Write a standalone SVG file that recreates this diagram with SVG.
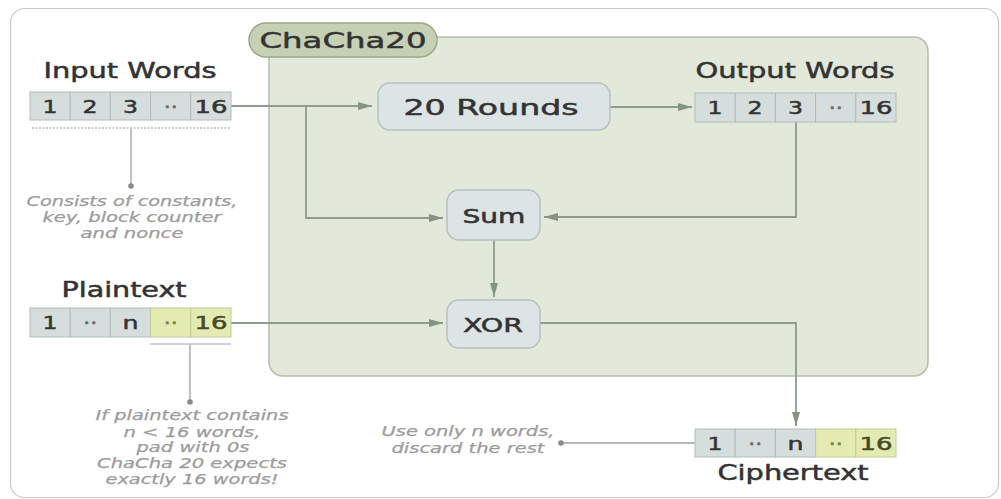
<svg xmlns="http://www.w3.org/2000/svg" width="1001" height="499" viewBox="0 0 1001 499">
<defs>
<marker id="arr" viewBox="0 0 14 10" refX="14" refY="5" markerWidth="14" markerHeight="10" markerUnits="userSpaceOnUse" orient="auto">
<path d="M0,1 L14,5 L0,9 z" fill="#849484"/>
</marker>
<style>
.t{font-family:"DejaVu Sans",Verdana,sans-serif;fill:#333;text-anchor:middle;stroke:#333;stroke-width:0.5}
.title{font-size:21px}
.node{font-size:22px}
.cell{font-size:18px}
.note{font-family:"DejaVu Sans",Verdana,sans-serif;font-style:italic;font-size:13.5px;fill:#9c9c9c;text-anchor:middle;stroke:#9c9c9c;stroke-width:0.25}
.box{fill:#dde4e6;stroke:#b7c0c0;stroke-width:1.5}
.cg{fill:#d6dddd;stroke:#b3bbbb;stroke-width:1}
.cy{fill:#e3ebb3;stroke:#c3ca98;stroke-width:1}
.conn{fill:none;stroke:#8d9c8d;stroke-width:1.8}
.lead{fill:none;stroke:#a0a0a0;stroke-width:1.3}
</style>
</defs>
<rect x="10.5" y="8.5" width="988" height="489" rx="14" fill="#ffffff" stroke="#c8c8c8" stroke-width="1.2"/>

<g id="chacha20">
<rect x="269" y="37" width="659" height="339" rx="14" fill="#e2e8da" stroke="#b4bea8" stroke-width="1.5"/>
<rect x="249" y="23" width="188" height="34" rx="17" fill="#c6d0b4" stroke="#9aa889" stroke-width="1.5"/>
<text class="t" x="343" y="48" font-size="22" textLength="167" lengthAdjust="spacingAndGlyphs">ChaCha20</text>
</g>

<g id="connectors">
<path class="conn" d="M231,106 H372" marker-end="url(#arr)"/>
<path class="conn" d="M306,106 V218 H443" marker-end="url(#arr)"/>
<path class="conn" d="M610,107 H692" marker-end="url(#arr)"/>
<path class="conn" d="M796,122 V217 H544" marker-end="url(#arr)"/>
<path class="conn" d="M494,240 V297" marker-end="url(#arr)"/>
<path class="conn" d="M231,323 H443" marker-end="url(#arr)"/>
<path class="conn" d="M540,323 H796 V426" marker-end="url(#arr)"/>
<path class="lead" d="M131,128 V185"/>
<circle cx="131" cy="186" r="2.8" fill="#8a8a8a"/>
<path class="lead" d="M190,344 V401"/>
<circle cx="190" cy="402" r="2.8" fill="#8a8a8a"/>
<path class="lead" d="M695,443 H562"/>
<circle cx="561" cy="443" r="2.8" fill="#8a8a8a"/>
</g>

<g id="input-words">
<text class="t title" x="130" y="78" textLength="173" lengthAdjust="spacingAndGlyphs">Input Words</text>
<rect class="cg" x="30" y="92" width="40.2" height="28"/>
<rect class="cg" x="70.2" y="92" width="40.2" height="28"/>
<rect class="cg" x="110.4" y="92" width="40.2" height="28"/>
<rect class="cg" x="150.6" y="92" width="40.2" height="28"/>
<rect class="cg" x="190.8" y="92" width="40.2" height="28"/>
<text class="t cell" x="50" y="113" textLength="15" lengthAdjust="spacingAndGlyphs">1</text>
<text class="t cell" x="90" y="113" textLength="15" lengthAdjust="spacingAndGlyphs">2</text>
<text class="t cell" x="130.5" y="113" textLength="15" lengthAdjust="spacingAndGlyphs">3</text>
<text class="t cell" x="170.7" y="113" textLength="14" lengthAdjust="spacingAndGlyphs" style="fill:#666;stroke:#666">··</text>
<text class="t cell" x="211" y="113" textLength="33" lengthAdjust="spacingAndGlyphs">16</text>
<path d="M32,128 H231" stroke="#b8bcc8" stroke-width="1.5" stroke-dasharray="2,1.5" fill="none"/>
<text class="note" x="132" y="206" textLength="211" lengthAdjust="spacingAndGlyphs">Consists of constants,</text>
<text class="note" x="132" y="222" textLength="179" lengthAdjust="spacingAndGlyphs">key, block counter</text>
<text class="note" x="132" y="238" textLength="103" lengthAdjust="spacingAndGlyphs">and nonce</text>
</g>

<g id="rounds">
<rect class="box" x="378" y="83" width="232" height="47" rx="12"/>
<text class="t node" x="491" y="115" textLength="175" lengthAdjust="spacingAndGlyphs">20 Rounds</text>
</g>

<g id="output-words">
<text class="t title" x="795" y="78" textLength="199" lengthAdjust="spacingAndGlyphs">Output Words</text>
<rect class="cg" x="695" y="93" width="40.2" height="29"/>
<rect class="cg" x="735.2" y="93" width="40.2" height="29"/>
<rect class="cg" x="775.4" y="93" width="40.2" height="29"/>
<rect class="cg" x="815.6" y="93" width="40.2" height="29"/>
<rect class="cg" x="855.8" y="93" width="40.2" height="29"/>
<text class="t cell" x="715" y="114" textLength="15" lengthAdjust="spacingAndGlyphs">1</text>
<text class="t cell" x="755" y="114" textLength="15" lengthAdjust="spacingAndGlyphs">2</text>
<text class="t cell" x="795.5" y="114" textLength="15" lengthAdjust="spacingAndGlyphs">3</text>
<text class="t cell" x="835.7" y="114" textLength="14" lengthAdjust="spacingAndGlyphs" style="fill:#666;stroke:#666">··</text>
<text class="t cell" x="876" y="114" textLength="33" lengthAdjust="spacingAndGlyphs">16</text>
</g>

<g id="sum">
<rect class="box" x="447" y="190" width="93" height="50" rx="12"/>
<text class="t" x="494" y="223" font-size="19" textLength="63" lengthAdjust="spacingAndGlyphs">Sum</text>
</g>

<g id="xor">
<rect class="box" x="447" y="300" width="93" height="48" rx="12"/>
<text class="t" x="493" y="332" font-size="19" textLength="60" lengthAdjust="spacingAndGlyphs">XOR</text>
</g>

<g id="plaintext">
<text class="t title" x="124" y="297" textLength="125" lengthAdjust="spacingAndGlyphs">Plaintext</text>
<rect class="cg" x="30" y="308" width="40.2" height="29"/>
<rect class="cg" x="70.2" y="308" width="40.2" height="29"/>
<rect class="cg" x="110.4" y="308" width="40.2" height="29"/>
<rect class="cy" x="150.6" y="308" width="40.2" height="29"/>
<rect class="cy" x="190.8" y="308" width="40.2" height="29"/>
<text class="t cell" x="50" y="329" textLength="15" lengthAdjust="spacingAndGlyphs">1</text>
<text class="t cell" x="90.3" y="329" textLength="14" lengthAdjust="spacingAndGlyphs" style="fill:#666;stroke:#666">··</text>
<text class="t cell" x="130.5" y="329" textLength="16" lengthAdjust="spacingAndGlyphs">n</text>
<text class="t cell" x="170.7" y="329" textLength="14" lengthAdjust="spacingAndGlyphs" style="fill:#7a8040;stroke:#7a8040">··</text>
<text class="t cell" x="211" y="329" textLength="33" lengthAdjust="spacingAndGlyphs" style="fill:#444a25;stroke:#444a25">16</text>
<path d="M150,344 H231" stroke="#bcc2dc" stroke-width="1.5" fill="none"/>
<text class="note" x="192" y="420" textLength="193" lengthAdjust="spacingAndGlyphs">If plaintext contains</text>
<text class="note" x="192" y="437" textLength="137" lengthAdjust="spacingAndGlyphs">n &lt; 16 words,</text>
<text class="note" x="193" y="452" textLength="113" lengthAdjust="spacingAndGlyphs">pad with 0s</text>
<text class="note" x="192" y="468" textLength="190" lengthAdjust="spacingAndGlyphs">ChaCha 20 expects</text>
<text class="note" x="192" y="484" textLength="173" lengthAdjust="spacingAndGlyphs">exactly 16 words!</text>
</g>

<g id="ciphertext">
<rect class="cg" x="695" y="429" width="40.2" height="28"/>
<rect class="cg" x="735.2" y="429" width="40.2" height="28"/>
<rect class="cg" x="775.4" y="429" width="40.2" height="28"/>
<rect class="cy" x="815.6" y="429" width="40.2" height="28"/>
<rect class="cy" x="855.8" y="429" width="40.2" height="28"/>
<text class="t cell" x="715" y="450" textLength="15" lengthAdjust="spacingAndGlyphs">1</text>
<text class="t cell" x="755.3" y="450" textLength="14" lengthAdjust="spacingAndGlyphs" style="fill:#666;stroke:#666">··</text>
<text class="t cell" x="795.5" y="450" textLength="16" lengthAdjust="spacingAndGlyphs">n</text>
<text class="t cell" x="835.7" y="450" textLength="14" lengthAdjust="spacingAndGlyphs" style="fill:#7a8040;stroke:#7a8040">··</text>
<text class="t cell" x="876" y="450" textLength="33" lengthAdjust="spacingAndGlyphs" style="fill:#444a25;stroke:#444a25">16</text>
<text class="t title" x="793" y="480" textLength="151" lengthAdjust="spacingAndGlyphs">Ciphertext</text>
<text class="note" x="468" y="436" textLength="173" lengthAdjust="spacingAndGlyphs">Use only n words,</text>
<text class="note" x="468" y="453" textLength="153" lengthAdjust="spacingAndGlyphs">discard the rest</text>
</g>
</svg>
